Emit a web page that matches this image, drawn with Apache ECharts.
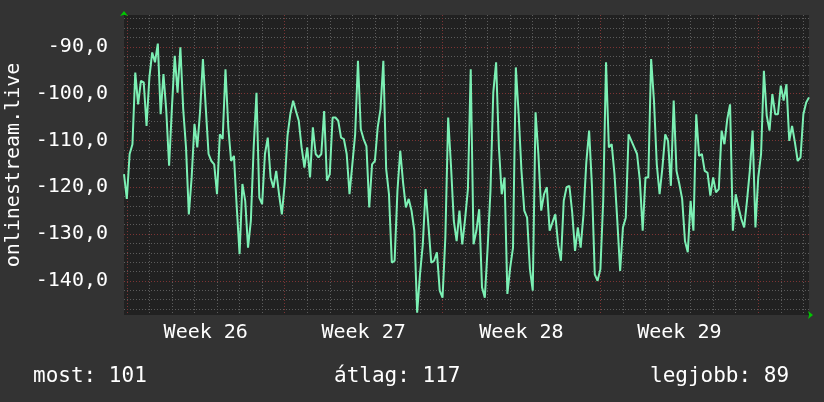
<!DOCTYPE html>
<html>
<head>
<meta charset="utf-8">
<script src="https://cdn.jsdelivr.net/npm/echarts@6/dist/echarts.min.js"></script>
<style>
  html, body { margin: 0; padding: 0; background: #333333; }
  #chart { width: 824px; height: 402px; }
</style>
</head>
<body>
<div id="chart"></div>
<script>
// one sample every 3 hours, starting just before Monday of week 26
const values = [
  -117.2, -122.5, -112.9, -110.8, -95.5, -102.3, -97.3, -97.6, -106.9, -96.6,
  -91.2, -93.3, -89.3, -104.4, -95.8, -103.7, -115.4, -103.0, -91.9, -99.8,
  -90.1, -103.3, -111.5, -125.8, -117.9, -106.5, -111.5, -103.7, -92.6, -103.0,
  -112.9, -114.4, -115.1, -121.5, -108.7, -109.7, -94.8, -107.2, -114.4, -113.3,
  -124.3, -134.3, -119.3, -122.9, -132.9, -127.2, -111.5, -99.8, -122.2, -123.6,
  -112.9, -109.4, -117.9, -120.1, -116.5, -121.5, -125.8, -119.3, -109.0, -104.4,
  -101.5, -103.7, -105.8, -111.5, -115.8, -111.5, -117.9, -107.2, -112.9, -113.6,
  -112.9, -103.7, -118.6, -117.2, -105.1, -105.1, -105.8, -109.4, -109.7, -112.9,
  -121.5, -115.1, -108.7, -93.0, -107.6, -109.7, -111.2, -124.3, -115.1, -114.4,
  -107.2, -103.3, -93.0, -116.1, -121.5, -136.1, -135.7, -120.8, -112.2, -119.0,
  -124.3, -122.5, -125.0, -129.3, -146.8, -138.6, -132.2, -120.4, -128.2, -136.1,
  -135.7, -133.9, -142.1, -143.6, -130.7, -105.1, -115.4, -127.2, -131.5, -125.0,
  -132.2, -126.8, -120.4, -94.8, -132.2, -129.3, -124.7, -141.4, -143.6, -132.9,
  -120.8, -99.8, -93.3, -111.5, -121.5, -117.9, -142.8, -137.2, -132.9, -94.4,
  -104.4, -116.5, -125.0, -126.5, -137.5, -142.1, -104.0, -112.9, -125.0, -121.5,
  -120.0, -129.3, -127.5, -125.8, -132.2, -135.7, -122.9, -120.0, -119.7, -125.4,
  -133.6, -128.6, -132.9, -125.8, -114.7, -107.9, -119.7, -138.6, -140.0, -137.5,
  -122.9, -93.3, -111.5, -110.8, -117.2, -127.2, -137.9, -128.6, -126.5, -108.7,
  -110.1, -111.5, -112.9, -118.6, -129.3, -117.9, -117.9, -92.6, -101.5, -115.1,
  -121.5, -115.8, -108.7, -110.1, -119.7, -101.5, -116.5, -119.3, -122.5, -131.5,
  -133.9, -122.9, -129.3, -104.4, -113.3, -112.9, -116.5, -116.9, -121.8, -117.9,
  -121.1, -120.4, -107.9, -110.8, -105.5, -102.3, -129.3, -121.5, -124.3, -126.8,
  -128.6, -122.9, -116.5, -107.9, -128.6, -117.9, -112.9, -95.1, -104.7, -107.9,
  -100.1, -104.4, -104.4, -98.3, -101.5, -98.0, -110.1, -106.9, -110.4, -114.4,
  -113.6, -104.4, -101.9, -100.8
];
// hours since start of the graph
const categories = values.map((v, i) => String(i * 3));
const weekLabels = ['Week 26', 'Week 27', 'Week 28', 'Week 29'];
const weekCenters = [29, 85, 141, 197];
const yTicks = [-140, -130, -120, -110, -100, -90];
const footerTexts = ['most: 101', 'átlag: 117', 'legjobb: 89'];

const FONT = '"DejaVu Sans Mono", monospace';
const GRID_GRAY = '#5c5c5c';
const GRID_RED = '#7d3434';
const ARROW = '#00c800';
const Y_MIN = -147.3;
const Y_MAX = -83.2;

const minorY = [];
for (let v = -146; v <= -84; v += 2) {
  if (v % 10 !== 0) minorY.push(v);
}

const chart = echarts.init(document.getElementById('chart'));

const option = {
  backgroundColor: '#333333',
  animation: false,
  grid: {
    left: 124, right: 15, top: 15, bottom: 87,
    outerBoundsMode: 'none',
    containLabel: false,
    show: true, backgroundColor: '#212121', borderWidth: 0
  },
  xAxis: [
    {
      type: 'category',
      data: categories,
      boundaryGap: false,
      position: 'bottom',
      axisLine: { show: false },
      axisTick: { show: false },
      axisLabel: {
        interval: (i) => weekCenters.includes(i),
        formatter: (v, i) => weekLabels[weekCenters.indexOf(i)] || '',
        color: '#ffffff',
        fontSize: 20,
        fontFamily: FONT,
        margin: 8
      },
      splitLine: {
        show: true,
        interval: (i) => i % 8 === 1 && i % 56 !== 1,
        lineStyle: { color: GRID_GRAY, width: 1, type: [1, 2] }
      }
    },
    {
      type: 'category',
      data: categories,
      boundaryGap: false,
      position: 'bottom',
      axisLine: {
        show: true,
        symbol: ['none', 'arrow'],
        symbolSize: [6, 5],
        symbolOffset: [0, 4],
        lineStyle: { color: ARROW, width: 0 }
      },
      axisTick: { show: false },
      axisLabel: { show: false },
      splitLine: {
        show: true,
        interval: (i) => i % 56 === 1,
        lineStyle: { color: GRID_RED, width: 1, type: [1, 2] }
      }
    }
  ],
  yAxis: [
    {
      type: 'value',
      min: Y_MIN,
      max: Y_MAX,
      position: 'left',
      name: 'onlinestream.live',
      nameLocation: 'middle',
      nameRotate: 90,
      nameGap: 100,
      nameTextStyle: { color: '#ffffff', fontSize: 20, fontFamily: FONT },
      axisLine: { show: false },
      axisTick: { show: false, customValues: minorY },
      axisLabel: { show: false },
      splitLine: { show: true, lineStyle: { color: GRID_GRAY, width: 1, type: [1, 2] } }
    },
    {
      type: 'value',
      min: Y_MIN,
      max: Y_MAX,
      position: 'left',
      axisLine: {
        show: true,
        symbol: ['none', 'arrow'],
        symbolSize: [6, 5],
        symbolOffset: [0, 4],
        lineStyle: { color: ARROW, width: 0 }
      },
      axisTick: { show: false, customValues: yTicks },
      axisLabel: {
        customValues: yTicks,
        formatter: (v) => v.toFixed(1).replace('.', ','),
        color: '#ffffff',
        fontSize: 20,
        fontFamily: FONT,
        margin: 16
      },
      splitLine: { show: true, lineStyle: { color: GRID_RED, width: 1, type: [1, 2] } }
    }
  ],
  series: [
    {
      type: 'line',
      data: values,
      xAxisIndex: 0,
      yAxisIndex: 0,
      showSymbol: false,
      lineStyle: { color: '#7cf0b4', width: 2 },
      z: 5
    }
  ],
  graphic: [
    { type: 'text', left: 33, top: 366, style: { text: footerTexts[0], fill: '#ffffff', font: '21px "DejaVu Sans Mono"' } },
    { type: 'text', left: 334, top: 366, style: { text: footerTexts[1], fill: '#ffffff', font: '21px "DejaVu Sans Mono"' } },
    { type: 'text', left: 650, top: 366, style: { text: footerTexts[2], fill: '#ffffff', font: '21px "DejaVu Sans Mono"' } }
  ]
};

chart.setOption(option);
</script>
</body>
</html>
